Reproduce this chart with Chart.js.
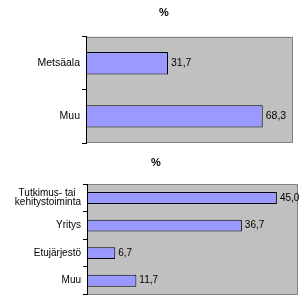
<!DOCTYPE html>
<html>
<head>
<meta charset="utf-8">
<script src="https://cdn.jsdelivr.net/npm/chart.js@4/dist/chart.umd.min.js"></script>
<style>
  html, body { margin: 0; padding: 0; background: #fff; overflow: hidden; }
  #w1 { position: absolute; left: 0; top: 0; width: 299px; height: 150px; }
  #w2 { position: absolute; left: 0; top: 150px; width: 299px; height: 156px; }
</style>
</head>
<body>
<div id="w1"><canvas id="c1"></canvas></div>
<div id="w2"><canvas id="c2"></canvas></div>
<script>
const title1 = "%";
const categories1 = ["Metsäala", "Muu"];
const values1 = [31.7, 68.3];

const title2 = "%";
const categories2 = [["Tutkimus- tai  ", "kehitystoiminta"], "Yritys", "Etujärjestö", "Muu"];
const values2 = [45.0, 36.7, 6.7, 11.7];

const FONT = "'Liberation Sans', Arial, sans-serif";

const plotBg = {
  id: 'plotBg',
  beforeDraw(chart) {
    const {ctx, chartArea: a} = chart;
    ctx.save();
    ctx.fillStyle = '#c0c0c0';
    ctx.fillRect(a.left, a.top, a.right - a.left, a.bottom - a.top);
    ctx.strokeStyle = '#808080';
    ctx.lineWidth = 1;
    ctx.beginPath();
    ctx.moveTo(a.left, Math.round(a.top) + 0.5);
    ctx.lineTo(Math.round(a.right) - 0.5, Math.round(a.top) + 0.5);
    ctx.lineTo(Math.round(a.right) - 0.5, Math.round(a.bottom) - 0.5);
    ctx.lineTo(a.left, Math.round(a.bottom) - 0.5);
    ctx.stroke();
    ctx.restore();
  }
};

// shift the title block horizontally (Excel centres it over a wider chart area)
const titleShift = {
  id: 'titleShift',
  afterLayout(chart, args, opts) {
    const tb = chart.titleBlock;
    if (tb && opts.dx) { tb.left += opts.dx; tb.right += opts.dx; }
  }
};

const valueLabels = {
  id: 'valueLabels',
  afterDatasetsDraw(chart, args, opts) {
    const {ctx} = chart;
    ctx.save();
    ctx.font = opts.size + 'px ' + FONT;
    ctx.fillStyle = '#000';
    ctx.textAlign = 'left';
    ctx.textBaseline = 'middle';
    chart.data.datasets.forEach((ds, i) => {
      chart.getDatasetMeta(i).data.forEach((bar, j) => {
        const txt = ds.data[j].toFixed(1).replace('.', ',');
        ctx.fillText(txt, bar.x + 3, bar.y);
      });
    });
    ctx.restore();
  }
};

function makeChart(id, title, cats, vals, opt) {
  return new Chart(document.getElementById(id), {
    type: 'bar',
    data: {
      labels: cats,
      datasets: [{
        data: vals,
        backgroundColor: '#9999ff',
        borderColor: '#000000',
        borderWidth: 1,
        borderSkipped: false,
        barPercentage: opt.barPct,
        categoryPercentage: 1
      }]
    },
    options: {
      indexAxis: 'y',
      responsive: true,
      maintainAspectRatio: false,
      animation: false,
      events: [],
      layout: { padding: opt.padding },
      plugins: {
        legend: { display: false },
        tooltip: { enabled: false },
        title: {
          display: true,
          text: title,
          color: '#000',
          font: { family: FONT, size: 11, weight: 'bold', lineHeight: 1.2 },
          padding: { top: 6, bottom: opt.titleBottom }
        },
        titleShift: { dx: opt.titleDx },
        valueLabels: { size: opt.valSize }
      },
      scales: {
        x: { display: false, min: 0, max: opt.max },
        y: {
          afterFit(scale) { scale.width = opt.yWidth; },
          border: { display: true, color: '#000', width: 1 },
          grid: {
            offset: true,
            drawOnChartArea: false,
            drawTicks: true,
            tickLength: 4,
            color: '#000'
          },
          ticks: {
            color: '#000',
            padding: 2,
            font: { family: FONT, size: opt.tickSize, lineHeight: 0.95 }
          }
        }
      }
    },
    plugins: [plotBg, titleShift, valueLabels]
  });
}

makeChart('c1', title1, categories1, values1, {
  max: 80, barPct: 0.42, yWidth: 86, titleDx: 17.5,
  padding: { left: 0, right: 6, top: 0, bottom: 3 },
  titleBottom: 17.5, tickSize: 10.5, valSize: 10.5
});

makeChart('c2', title2, categories2, values2, {
  max: 50, barPct: 0.43, yWidth: 87, titleDx: 7,
  padding: { left: 0, right: 1, top: 0, bottom: 4 },
  titleBottom: 15, tickSize: 10, valSize: 10
});
</script>
</body>
</html>
